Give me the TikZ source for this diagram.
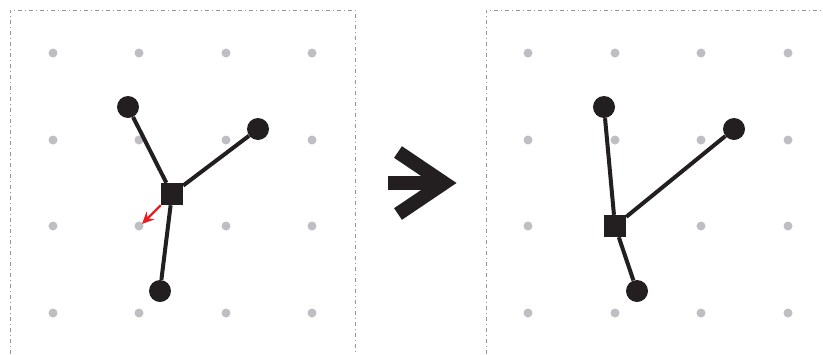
\documentclass[tikz,border=0pt]{standalone}
\usetikzlibrary{arrows.meta}
\definecolor{ink}{RGB}{35,31,32}
\definecolor{griddot}{RGB}{190,190,195}
\definecolor{framegray}{RGB}{150,150,150}
\definecolor{pullred}{RGB}{235,30,35}
\begin{document}
\begin{tikzpicture}[x=1pt,y=-1pt,
  ball/.style={circle, fill=ink, inner sep=0pt, minimum size=22pt},
  hub/.style={rectangle, fill=ink, inner sep=0pt, minimum size=22pt},
  link/.style={draw=ink, line width=4pt},
  frame/.style={draw=framegray, line width=0.6pt, dash pattern=on 4pt off 3pt on 1pt off 3pt}]
\useasboundingbox (0,0) rectangle (823,354);
% panels
\draw[frame] (10,354) -- (10,10) -- (355,10) -- (355,354);
\draw[frame] (486,354) -- (486,10) -- (823,10);
% grid dots
\foreach \x in {53,139,226,312} \foreach \y in {53,140,226,313}
  \fill[griddot] (\x,\y) circle (4.5pt);
\foreach \x in {528,615,701,788} \foreach \y in {53,140,226,313}
  \fill[griddot] (\x,\y) circle (4.5pt);
% before
\node[ball] (la) at (128,107) {};
\node[ball] (lb) at (258,129) {};
\node[ball] (lc) at (160,291) {};
\node[hub] (lh) at (172,194) {};
\draw[link] (lh) -- (la);
\draw[link] (lh) -- (lb);
\draw[link] (lh) -- (lc);
\coordinate (lt) at (142,224);
\draw[pullred, line width=2.2pt, -{Stealth[length=12pt,width=11pt]}] (lh.south west) -- (lt);
% step arrow
\fill[ink] (388,176) rectangle (440,190);
\draw[ink, line width=14pt, line join=miter] (398,152) -- (444,183) -- (398,214);
% after
\node[ball] (ra) at (604,107) {};
\node[ball] (rb) at (734,129) {};
\node[ball] (rc) at (637,291) {};
\node[hub] (rh) at (615,226) {};
\draw[link] (rh) -- (ra);
\draw[link] (rh) -- (rb);
\draw[link] (rh) -- (rc);
\end{tikzpicture}
\end{document}
